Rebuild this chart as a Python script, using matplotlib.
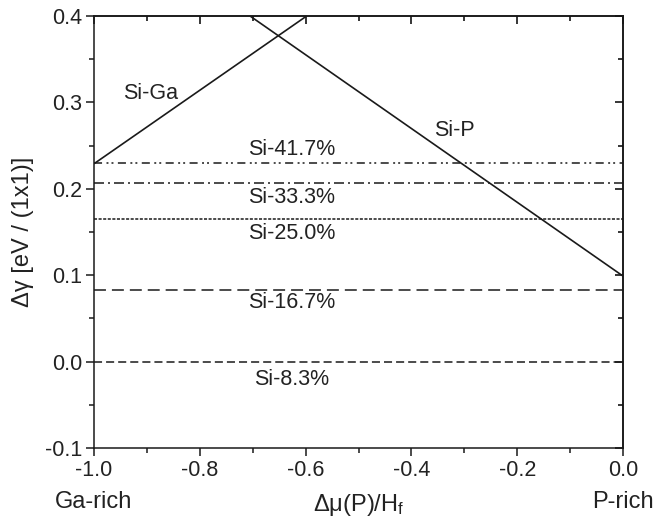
import matplotlib
matplotlib.use("Agg")
import matplotlib.pyplot as plt
from matplotlib.ticker import MultipleLocator

plt.rcParams['font.family'] = ['Liberation Sans', 'DejaVu Sans']
plt.rcParams['mathtext.fontset'] = 'custom'
plt.rcParams['mathtext.rm'] = 'Liberation Sans'
plt.rcParams['mathtext.it'] = 'Liberation Sans:italic'
plt.rcParams['lines.scale_dashes'] = False

# ---- data ----
siga_x = [-1.0, -0.598]
siga_y = [0.229, 0.400]
sip_x = [-0.705, 0.0]
sip_y = [0.400, 0.099]

flat_names = ["Si-41.7%", "Si-33.3%", "Si-25.0%", "Si-16.7%", "Si-8.3%"]
flat_values = [0.230, 0.207, 0.165, 0.083, 0.0]
flat_label_y = [0.246, 0.1905, 0.148, 0.068, -0.021]
label_x = -0.626

xlim = (-1.0, 0.0)
ylim = (-0.1, 0.4)

# dash patterns (points)
dash_styles = [
    (5.8, 3.2, 1.4, 2.2, 1.4, 3.2),
    (7.2, 2.9, 1.4, 2.9),
    (2.2, 1.1),
    (8.6, 4.3),
    (5.8, 2.9),
]

fig = plt.figure(figsize=(6.57, 5.17), dpi=100)
ax = fig.add_axes([94/657, 69/517, 529/657, 432/517])

ax.plot(siga_x, siga_y, color='#1a1a1a', lw=1.2, solid_capstyle='butt')
ax.plot(sip_x, sip_y, color='#1a1a1a', lw=1.2, solid_capstyle='butt')

for val, name, ly, ds in zip(flat_values, flat_names, flat_label_y, dash_styles):
    line, = ax.plot(xlim, [val, val], color='#1a1a1a', lw=1.1)
    line.set_dashes(ds)
    ax.text(label_x, ly, name, ha='center', va='center', fontsize=15.5, color='#222222')

ax.text(-0.894, 0.310, "Si-Ga", ha='center', va='center', fontsize=15.5, color='#222222')
ax.text(-0.318, 0.268, "Si-P", ha='center', va='center', fontsize=15.5, color='#222222')

ax.set_xlim(*xlim)
ax.set_ylim(*ylim)
ax.xaxis.set_major_locator(MultipleLocator(0.2))
ax.xaxis.set_minor_locator(MultipleLocator(0.1))
ax.yaxis.set_major_locator(MultipleLocator(0.1))
ax.yaxis.set_minor_locator(MultipleLocator(0.05))
ax.xaxis.set_major_formatter(plt.FuncFormatter(lambda v, p: f"{v:.1f}" if abs(v) > 1e-9 else "0.0"))
ax.yaxis.set_major_formatter(plt.FuncFormatter(lambda v, p: f"{v:.1f}" if abs(v) > 1e-9 else "0.0"))

for s in ax.spines.values():
    s.set_linewidth(1.1)
    s.set_color('#1a1a1a')

ax.tick_params(which='major', direction='out', length=6, width=1.1, labelsize=15.5, pad=2.5, colors='#1a1a1a')
ax.tick_params(which='minor', direction='out', length=3.5, width=1.1, colors='#1a1a1a')
ax.tick_params(axis='both', labelcolor='#222222')

# top / right inward ticks
sx = ax.secondary_xaxis('top')
sx.xaxis.set_major_locator(MultipleLocator(0.2))
sx.xaxis.set_minor_locator(MultipleLocator(0.1))
sx.tick_params(which='major', direction='in', length=6, width=1.1, labeltop=False)
sx.tick_params(which='minor', direction='in', length=3.5, width=1.1)
sy = ax.secondary_yaxis('right')
sy.yaxis.set_major_locator(MultipleLocator(0.1))
sy.yaxis.set_minor_locator(MultipleLocator(0.05))
sy.tick_params(which='major', direction='in', length=6, width=1.1, labelright=False)
sy.tick_params(which='minor', direction='in', length=3.5, width=1.1)
for s in list(sx.spines.values()) + list(sy.spines.values()):
    s.set_linewidth(1.1)

ax.set_ylabel("Δγ [eV / (1x1)]", fontsize=17, color='#222222', labelpad=8)
ax.set_xlabel("Δμ(P)/H$_\\mathregular{f}$", fontsize=17, color='#222222', labelpad=8)

tr = ax.get_xaxis_transform()
ax.text(-1.0, -0.126, "Ga-rich", transform=tr, ha='center', va='center', fontsize=17, color='#222222')
ax.text(0.0, -0.126, "P-rich", transform=tr, ha='center', va='center', fontsize=17, color='#222222')

fig.savefig("out.png", dpi=100)
